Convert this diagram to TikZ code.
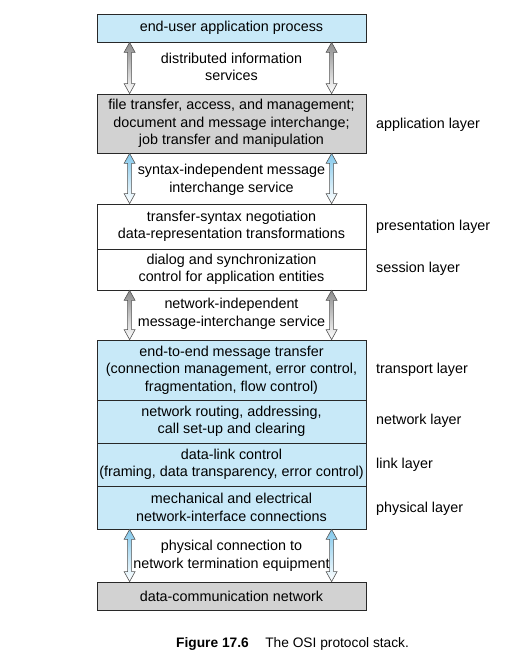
\documentclass[tikz,border=0pt]{standalone}
\usepackage{fontspec}
\setmainfont{Liberation Sans}
\usetikzlibrary{calc}
\definecolor{osiblue}{RGB}{200,233,248}
\definecolor{osigray}{RGB}{210,210,210}
\definecolor{arrowblue}{RGB}{130,200,235}
\definecolor{arrowgray}{RGB}{140,140,140}
\definecolor{boxline}{RGB}{40,40,40}
\tikzset{
  layerbox/.style={draw=boxline, line width=0.8pt, minimum width=269bp, inner sep=0pt,
    align=center, font=\fontsize{14.4}{17.5}\selectfont},
  servtext/.style={align=center, font=\fontsize{14.4}{17.5}\selectfont, inner sep=0pt},
  layername/.style={anchor=west, font=\fontsize{14.4}{17}\selectfont, inner sep=0pt},
  arrowbody/.style={draw=boxline!80, line width=0.6pt, bottom color=white}
}
% hollow double arrows between two stacked boxes
\newcommand{\osiarrows}[3]{%
  \foreach \dx in {33,235} {
    \path ([xshift=\dx bp]#1.south west) coordinate (t)
          ([xshift=\dx bp]#2.north west) coordinate (b);
    \draw[arrowbody, top color=#3] (t) -- ++(5.5,10) -- ++(-3.5,0)
      -- ($(b)+(2,-10)$) -- ++(3.5,0) -- (b) -- ++(-5.5,-10) -- ++(3.5,0)
      -- ($(t)+(-2,10)$) -- ++(-3.5,0) -- cycle;
  }}
\begin{document}
\begin{tikzpicture}[x=1bp,y=-1bp]
  \useasboundingbox (0,0) rectangle (510,661);
  % boxes
  \node[layerbox, fill=osiblue, minimum height=28bp] (enduser) at (231.5,28) {end-user application process};
  \node[layerbox, fill=osigray, minimum height=59bp] (appl) at (231.5,123.5)
    {file transfer, access, and management;\\document and message interchange;\\job transfer and manipulation};
  \node[layerbox, fill=white, minimum height=45bp] (pres) at (231.5,226.5)
    {transfer-syntax negotiation\\data-representation transformations};
  \node[layerbox, fill=white, minimum height=41bp] (sess) at (231.5,269.5)
    {dialog and synchronization\\control for application entities};
  \node[layerbox, fill=osiblue, minimum height=60bp] (trans) at (231.5,370)
    {end-to-end message transfer\\(connection management, error control,\\fragmentation, flow control)};
  \node[layerbox, fill=osiblue, minimum height=43bp] (netw) at (231.5,421.5)
    {network routing, addressing,\\call set-up and clearing};
  \node[layerbox, fill=osiblue, minimum height=43bp] (link) at (231.5,464.5)
    {data-link control\\(framing, data transparency, error control)};
  \node[layerbox, fill=osiblue, minimum height=43bp] (phys) at (231.5,507.5)
    {mechanical and electrical\\network-interface connections};
  \node[layerbox, fill=osigray, minimum height=28bp] (datanet) at (231.5,596) {data-communication network};
  % arrows
  \osiarrows{enduser}{appl}{arrowgray}
  \osiarrows{appl}{pres}{arrowblue}
  \osiarrows{sess}{trans}{arrowgray}
  \osiarrows{phys}{datanet}{arrowblue}
  % service texts
  \node[servtext] (serv1) at (231.5,67) {distributed information\\services};
  \node[servtext] (serv2) at (231.5,180) {syntax-independent message\\interchange service};
  \node[servtext] (serv3) at (231.5,314) {network-independent\\message-interchange service};
  \node[servtext] (serv4) at (231.5,556) {physical connection to\\network termination equipment};
  % layer names
  \node[layername] (lappl) at (376,125) {application layer};
  \node[layername] (lpres) at (376,227) {presentation layer};
  \node[layername] (lsess) at (376,269) {session layer};
  \node[layername] (ltrans) at (376,370) {transport layer};
  \node[layername] (lnetw) at (376,421) {network layer};
  \node[layername] (llink) at (376,465) {link layer};
  \node[layername] (lphys) at (376,509) {physical layer};
  % caption
  \node[anchor=west, inner sep=0pt, font=\fontsize{13.8}{16}\selectfont] (caption) at (176,644)
    {\textbf{Figure 17.6}\hspace{1.2em}The OSI protocol stack.};
\end{tikzpicture}
\end{document}
